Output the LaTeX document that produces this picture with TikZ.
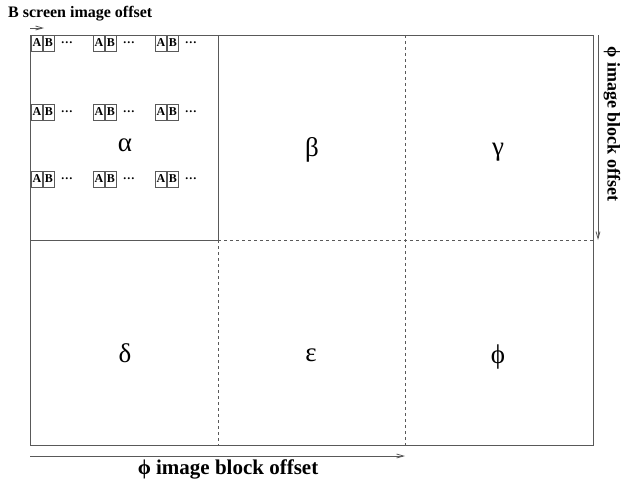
\documentclass[tikz,border=0pt]{standalone}
\usepackage{fontspec}
\setmainfont{Liberation Serif}
\usetikzlibrary{positioning,arrows.meta}

\tikzset{
  half/.style={draw=black!65, line width=0.8pt, minimum width=11pt, minimum height=16pt,
    inner sep=0pt, font=\bfseries\fontsize{12}{12}\selectfont},
  dots/.style={font=\bfseries\fontsize{12}{12}\selectfont, inner sep=0pt},
  region/.style={font=\fontsize{27}{27}\selectfont},
  axis/.style={draw=black!65, line width=0.8pt, -{Straight Barb[length=7pt,width=4pt]}},
  caption/.style={font=\bfseries\fontsize{16}{16}\selectfont, inner sep=0pt},
  grid/.style={draw=black!65, line width=0.8pt}
}

\begin{document}
\begin{tikzpicture}[x=1pt,y=-1pt]
\useasboundingbox (0,0) rectangle (626,488);

% outline of the image
\coordinate (tl) at (30,35);
\coordinate (tr) at (593,35);
\coordinate (bl) at (30,445);
\coordinate (br) at (593,445);
\coordinate (c1t) at (218,35);
\coordinate (c1b) at (218,445);
\coordinate (c2t) at (405,35);
\coordinate (c2b) at (405,445);
\coordinate (rl) at (30,240);
\coordinate (rm) at (218,240);
\coordinate (rr) at (593,240);

\draw[grid] (tl) rectangle (br);
\draw[grid] (rl) -- (rm) -- (c1t);
\draw[grid, dashed] (rm) -- (rr);
\draw[grid, dashed] (rm) -- (c1b);
\draw[grid, dashed] (c2t) -- (c2b);

% screen blocks
\foreach \r/\y in {1/43, 2/112, 3/179}{
  \foreach \c/\x in {1/37, 2/99, 3/161}{
    \node[half] (a\r\c) at (\x,\y) {A};
    \node[half, right=0pt of a\r\c] (b\r\c) {B};
    \node[dots, right=6pt of b\r\c] (d\r\c) {…};
  }
}

% regions
\node[region] (alpha) at (125,145) {α};
\node[region] (beta) at (312,150) {β};
\node[region] (gamma) at (498,152) {γ};
\node[region] (delta) at (125,353) {δ};
\node[region] (eps) at (311,355) {ε};
\node[region] (phi) at (498,357) {ϕ};

% offsets
\coordinate (sa) at (30,28);
\coordinate (sb) at (44,28);
\draw[axis] (sa) -- (sb);
\node[caption, anchor=west] (scr) at (8,14) {B screen image offset};

\coordinate (ha) at (30,456);
\coordinate (hb) at (405,456);
\draw[axis] (ha) -- (hb);
\node[caption, font=\bfseries\fontsize{21}{21}\selectfont] (hcap) at (228,469) {ϕ image block offset};

\coordinate (va) at (598,35);
\coordinate (vb) at (598,240);
\draw[axis] (va) -- (vb);
\node[caption, font=\bfseries\fontsize{18}{18}\selectfont, rotate=-90] (vcap) at (612,124) {ϕ image block offset};
\end{tikzpicture}
\end{document}
